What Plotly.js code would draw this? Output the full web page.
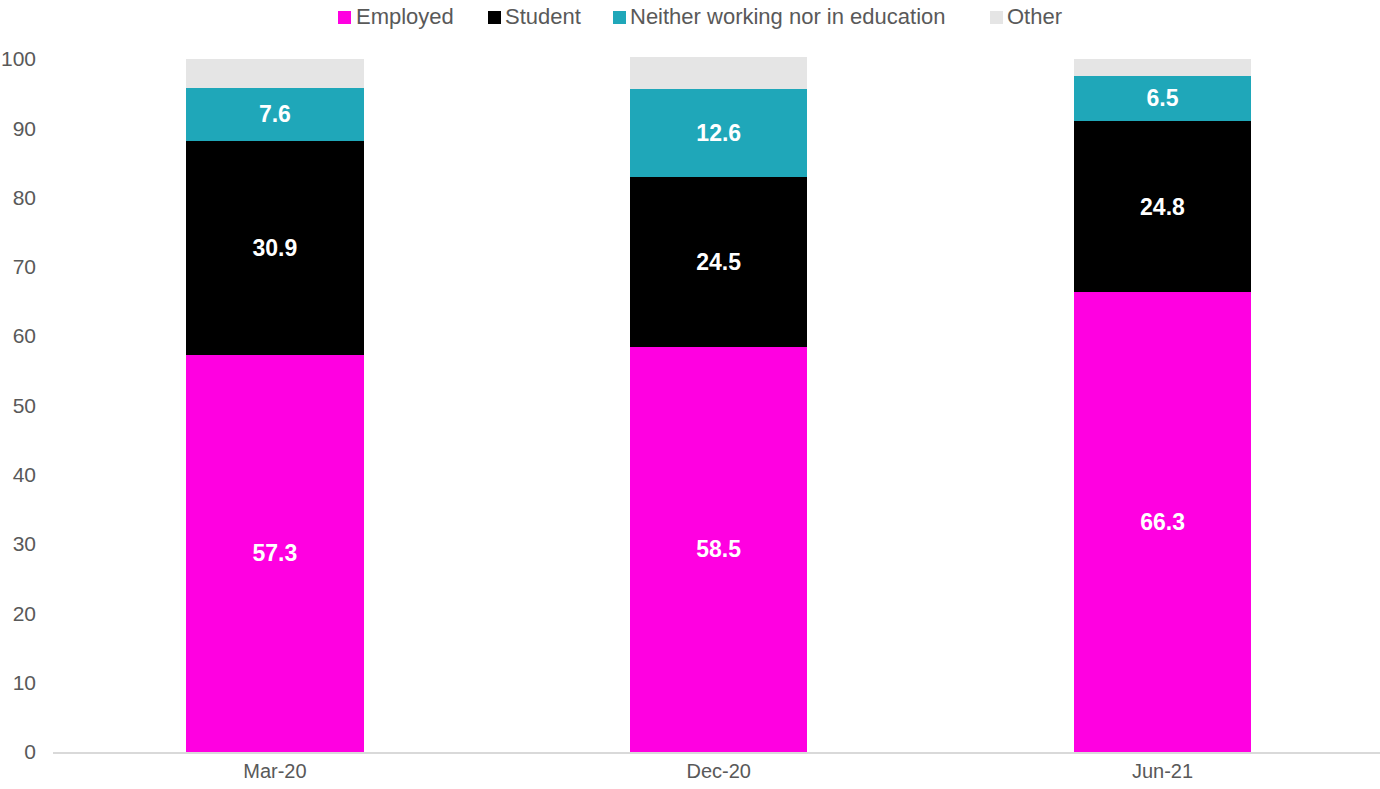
<!DOCTYPE html>
<html>
<head>
<meta charset="utf-8">
<script src="https://cdn.plot.ly/plotly-3.0.1.min.js"></script>
<style>html,body{margin:0;padding:0;background:#fff;}#chart{width:1380px;height:789px;}</style>
</head>
<body>
<div id="chart"></div>
<script>
const categories = ["Mar-20", "Dec-20", "Jun-21"];
const employed = [57.3, 58.5, 66.3];
const student = [30.9, 24.5, 24.8];
const neither = [7.6, 12.6, 6.5];
const other = [4.2, 4.7, 2.4];

const seriesNames = ["Employed", "Student", "Neither working nor in education", "Other"];
const seriesColors = ["#FF00E1", "#000000", "#1FA7B9", "#E5E5E5"];
const seriesValues = [employed, student, neither, other];
const showLabels = [true, true, true, false];

const font = "Liberation Sans, Arial, Helvetica, sans-serif";

// plot area geometry (pixels)
const W = 1380, H = 789;
const M = {l: 53, r: 0, t: 45, b: 37};
const PW = W - M.l - M.r, PH = H - M.t - M.b;
const px2x = p => (p - M.l) / PW;
const px2y = p => (H - M.b - p) / PH;

const traces = seriesValues.map((vals, i) => ({
  type: "bar",
  name: seriesNames[i],
  x: categories,
  y: vals,
  marker: {color: seriesColors[i], line: {width: 0}},
  texttemplate: showLabels[i] ? "<b>%{y:.1f}</b>" : "",
  textposition: showLabels[i] ? "inside" : "none",
  insidetextanchor: "middle",
  textangle: 0,
  textfont: {family: font, size: 23, color: "#ffffff"},
  hoverinfo: "x+y+name",
  showlegend: false
}));

// custom legend (marker square right next to label, as in the reference)
const legendMarkerLeft = [338, 488, 613, 990];
const legendTextLeft = [354, 503, 628, 1005];
const legendCenterY = 17;
const shapes = [], annotations = [];
seriesNames.forEach((n, i) => {
  shapes.push({
    type: "rect", xref: "paper", yref: "paper",
    xsizemode: "pixel", ysizemode: "pixel",
    xanchor: px2x(legendMarkerLeft[i]), yanchor: px2y(legendCenterY),
    x0: 0, x1: 13, y0: -7, y1: 6,
    fillcolor: seriesColors[i], line: {width: 0}
  });
  annotations.push({
    xref: "paper", yref: "paper",
    x: px2x(legendTextLeft[i]), y: px2y(legendCenterY),
    xanchor: "left", yanchor: "middle",
    text: n, showarrow: false,
    font: {family: font, size: 22, color: "#595959"}
  });
});

const layout = {
  width: W,
  height: H,
  margin: {l: M.l, r: M.r, t: M.t, b: M.b, autoexpand: false},
  barmode: "stack",
  bargap: 0.6,
  paper_bgcolor: "#ffffff",
  plot_bgcolor: "#ffffff",
  font: {family: font, size: 20, color: "#595959"},
  showlegend: false,
  shapes: shapes,
  annotations: annotations,
  xaxis: {
    type: "category",
    range: [-0.5, 2.49],
    showline: true,
    linecolor: "#D9D9D9",
    linewidth: 2,
    ticks: "",
    showgrid: false,
    zeroline: false,
    tickfont: {family: font, size: 20, color: "#595959"}
  },
  yaxis: {
    range: [0, 102],
    tickmode: "linear",
    tick0: 0,
    dtick: 10,
    showgrid: false,
    zeroline: false,
    showline: false,
    ticks: "",
    ticklabelstandoff: 16,
    tickfont: {family: font, size: 21, color: "#595959"}
  }
};

Plotly.newPlot("chart", traces, layout, {displayModeBar: false, staticPlot: true});
</script>
</body>
</html>
